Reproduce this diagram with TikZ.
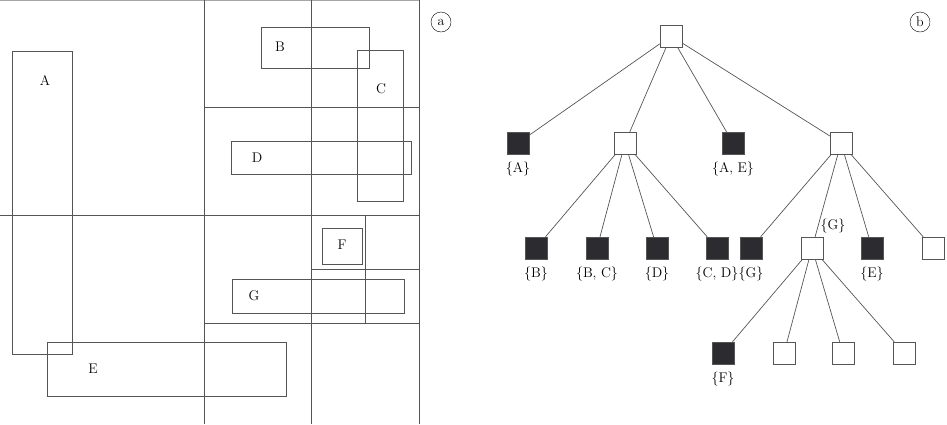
\documentclass[tikz,border=0pt]{standalone}
\usepackage{fontspec}
\definecolor{rectgray}{RGB}{85,85,85}
\definecolor{leafdark}{RGB}{44,44,48}

\begin{document}
\begin{tikzpicture}[x=1pt,y=-1pt,font=\fontsize{14}{16}\selectfont,
    region/.style={draw=rectgray,line width=.8pt},
    leaf/.style={draw=rectgray,fill=leafdark,minimum size=22pt,inner sep=0pt},
    inner/.style={draw=rectgray,fill=white,minimum size=22pt,inner sep=0pt},
    panel/.style={draw,circle,minimum size=20pt,inner sep=0pt},
    every label/.style={label distance=4pt},
    branch/.style={rectgray,line width=.7pt}]
    \useasboundingbox (0,0) rectangle (947,424);
    % (a) the plane split into cells
    \draw[region,gray!70] (0,0)--(419,0);
    \draw[region] (204,0)--(204,424);
    \draw[region] (311,0)--(311,424);
    \draw[region] (419,0)--(419,424);
    \draw[region] (204,107)--(419,107);
    \draw[region] (0,215)--(419,215);
    \draw[region] (365,215)--(365,323);
    \draw[region] (311,269)--(419,269);
    \draw[region] (204,323)--(419,323);
    \draw[region] (12,51) rectangle (72,354);
    \draw[region] (261,27) rectangle (369,68);
    \draw[region] (357,50) rectangle (403,201);
    \draw[region] (231,141) rectangle (411,174);
    \draw[region] (47,342) rectangle (286,396);
    \draw[region] (322,228) rectangle (362,264);
    \draw[region] (232,279) rectangle (404,313);
    \node (la) at (45,80) {A};
    \node (lb) at (280,47) {B};
    \node (lc) at (381,89) {C};
    \node (ld) at (257,158) {D};
    \node (le) at (93,369) {E};
    \node (lf) at (342,245) {F};
    \node (lg) at (254,296) {G};
    \node[panel] (pa) at (441,22) {a};
    % (b) the tree
    \node[inner] (root) at (671,36) {};
    \node[leaf,label=below:{\{A\}}] (ta) at (518,143) {};
    \node[inner] (tl) at (625,143) {};
    \node[leaf,label=below:{\{A, E\}}] (tae) at (733,143) {};
    \node[inner] (tr) at (841,143) {};
    \node[leaf,label=below:{\{B\}}] (tb) at (536,248) {};
    \node[leaf,label=below:{\{B, C\}}] (tbc) at (597,248) {};
    \node[leaf,label=below:{\{D\}}] (td) at (657,248) {};
    \node[leaf,label=below:{\{C, D\}}] (tcd) at (717,248) {};
    \node[leaf,label=below:{\{G\}}] (tg) at (751,248) {};
    \node[inner,label={[label distance=0pt,xshift=-6pt]above right:{\{G\}}}] (tq) at (812,248) {};
    \node[leaf,label=below:{\{E\}}] (te) at (872,248) {};
    \node[inner] (tn) at (933,248) {};
    \node[leaf,label=below:{\{F\}}] (tf) at (723,353) {};
    \node[inner] (tq2) at (784,353) {};
    \node[inner] (tq3) at (843,353) {};
    \node[inner] (tq4) at (904,353) {};
    \draw[branch] (root)--(ta);
    \draw[branch] (root)--(tl);
    \draw[branch] (root)--(tae);
    \draw[branch] (root)--(tr);
    \draw[branch] (tl)--(tb);
    \draw[branch] (tl)--(tbc);
    \draw[branch] (tl)--(td);
    \draw[branch] (tl)--(tcd);
    \draw[branch] (tr)--(tg);
    \draw[branch] (tr)--(tq);
    \draw[branch] (tr)--(te);
    \draw[branch] (tr)--(tn);
    \draw[branch] (tq)--(tf);
    \draw[branch] (tq)--(tq2);
    \draw[branch] (tq)--(tq3);
    \draw[branch] (tq)--(tq4);
    \node[panel] (pb) at (920,22) {b};
  \end{tikzpicture}
\end{document}
